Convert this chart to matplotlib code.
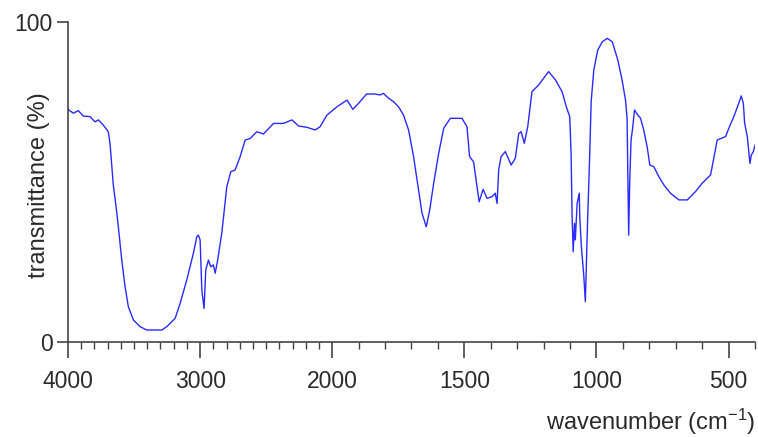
import numpy as np
import matplotlib
matplotlib.use("Agg")
import matplotlib.pyplot as plt

plt.rcParams['font.family'] = ['Liberation Sans', 'DejaVu Sans']
plt.rcParams['mathtext.default'] = 'regular'

# spectrum (wavenumber in cm-1, transmittance in %)
wavenumber = [4000, 3960, 3922, 3884, 3833, 3795, 3770, 3733, 3695, 3682,
              3669, 3657, 3636, 3619, 3593, 3568, 3543, 3505, 3455, 3404,
              3290, 3252, 3189, 3151, 3101, 3051, 3025, 3013, 3000, 2987,
              2970, 2957, 2937, 2919, 2899, 2886, 2869, 2836, 2798, 2768,
              2735, 2697, 2659, 2621, 2571, 2520, 2444, 2369, 2305, 2255,
              2192, 2129, 2091, 2040, 1982, 1944, 1922, 1900, 1870, 1840,
              1818, 1806, 1787, 1768, 1749, 1730, 1711, 1692, 1673, 1660,
              1644, 1631, 1616, 1597, 1578, 1553, 1509, 1490, 1480, 1465,
              1452, 1444, 1429, 1414, 1395, 1383, 1376, 1370, 1361, 1345,
              1323, 1307, 1294, 1285, 1273, 1260, 1244, 1219, 1181, 1155,
              1130, 1114, 1101, 1096, 1092, 1088, 1083, 1080, 1073, 1065,
              1063, 1057, 1048, 1042, 1038, 1033, 1026, 1020, 1010, 995,
              978, 959, 940, 919, 903, 890, 884, 881, 878, 874,
              869, 863, 856, 843, 833, 821, 808, 798, 783, 764,
              745, 720, 688, 656, 625, 600, 568, 556, 543, 511,
              499, 480, 457, 452, 444, 439, 429, 419, 414, 406, 400]
transmittance = [72.7, 71.5, 72.3, 70.6, 70.4, 68.8, 69.4, 67.8, 65.7, 62.1,
                 55.3, 49.0, 42.3, 36.0, 25.6, 17.3, 11.0, 6.9, 4.8, 3.75,
                 3.75, 4.8, 7.4, 12.1, 19.4, 27.7, 32.9, 33.4, 31.9, 16.3,
                 10.5, 22.5, 25.6, 23.5, 24.1, 21.5, 25.1, 34.0, 48.5, 53.2,
                 53.75, 57.9, 63.1, 63.6, 65.7, 65.0, 68.3, 68.3, 69.4, 67.5,
                 67.1, 66.25, 67.3, 70.9, 73.5, 75.6, 72.7, 74.6, 77.5, 77.5,
                 77.2, 77.7, 76.2, 75.1, 73.5, 70.9, 66.25, 57.9, 47.5, 40.2,
                 36.0, 41.25, 49.6, 59.0, 66.8, 69.9, 69.9, 67.3, 57.9, 56.3,
                 48.5, 43.8, 47.7, 44.9, 45.4, 46.5, 43.3, 53.75, 57.9, 59.5,
                 55.3, 57.4, 65.2, 65.7, 62.1, 67.3, 78.2, 80.3, 84.5, 81.9,
                 78.2, 73.5, 70.4, 59.0, 39.2, 28.2, 37.1, 31.9, 43.3, 46.5,
                 39.2, 29.8, 20.9, 12.6, 24.6, 39.2, 56.9, 75.1, 85.0, 91.25,
                 93.8, 94.9, 93.8, 88.1, 81.9, 75.6, 69.9, 51.7, 33.4, 50.1,
                 63.1, 66.8, 72.5, 70.9, 69.9, 66.25, 61.0, 55.3, 54.8, 51.7,
                 49.1, 46.5, 44.4, 44.4, 47.0, 49.6, 52.2, 57.4, 63.1, 64.2,
                 66.8, 70.4, 75.6, 76.9, 74.6, 68.3, 64.2, 55.8, 58.4, 59.5, 61.5]

major_ticks = [4000, 3000, 2000, 1500, 1000, 500]


# axis is compressed by half above 2000 cm-1
def fwd(w):
    w = np.asarray(w, dtype=float)
    return np.where(w > 2000, 2000 + (w - 2000) / 2, w)


def inv(u):
    u = np.asarray(u, dtype=float)
    return np.where(u > 2000, 2000 + (u - 2000) * 2, u)


text_col = '#2a2a2a'
fig = plt.figure(figsize=(7.58, 4.37), dpi=100)
ax = fig.add_axes([0.0897, 0.2174, 0.9063, 0.7323])

ax.plot(wavenumber, transmittance, color='#2a2aff', lw=1.0)

ax.set_xscale('function', functions=(fwd, inv))
ax.set_xlim(4000, 400)
ax.set_ylim(0, 100)

ax.set_xticks(major_ticks)
ax.set_xticks(np.arange(400, 4001, 100), minor=True)
ax.set_xticklabels([str(t) for t in major_ticks])
ax.set_yticks([0, 100])
ax.set_yticklabels(['0', '100'])

for s in ['top', 'right']:
    ax.spines[s].set_visible(False)
for s in ['left', 'bottom']:
    ax.spines[s].set_color('#444444')
    ax.spines[s].set_linewidth(1.2)

ax.tick_params(axis='x', which='major', direction='out', length=11.5, width=1.2,
               color='#444444', labelsize=16.5, labelcolor=text_col, pad=9)
ax.tick_params(axis='x', which='minor', direction='out', length=5, width=1.0,
               color='#444444')
ax.tick_params(axis='y', which='major', direction='out', length=8, width=1.2,
               color='#444444', labelsize=16.5, labelcolor=text_col, pad=3)

fig.text(0.0515, 0.5767, 'transmittance (%)', rotation=90, ha='center',
         va='center', fontsize=17, color=text_col)
fig.text(0.996, 0.0343, 'wavenumber (cm$^{-1}$)', ha='right', va='center',
         fontsize=17, color=text_col)

fig.savefig('out.png', dpi=100)
